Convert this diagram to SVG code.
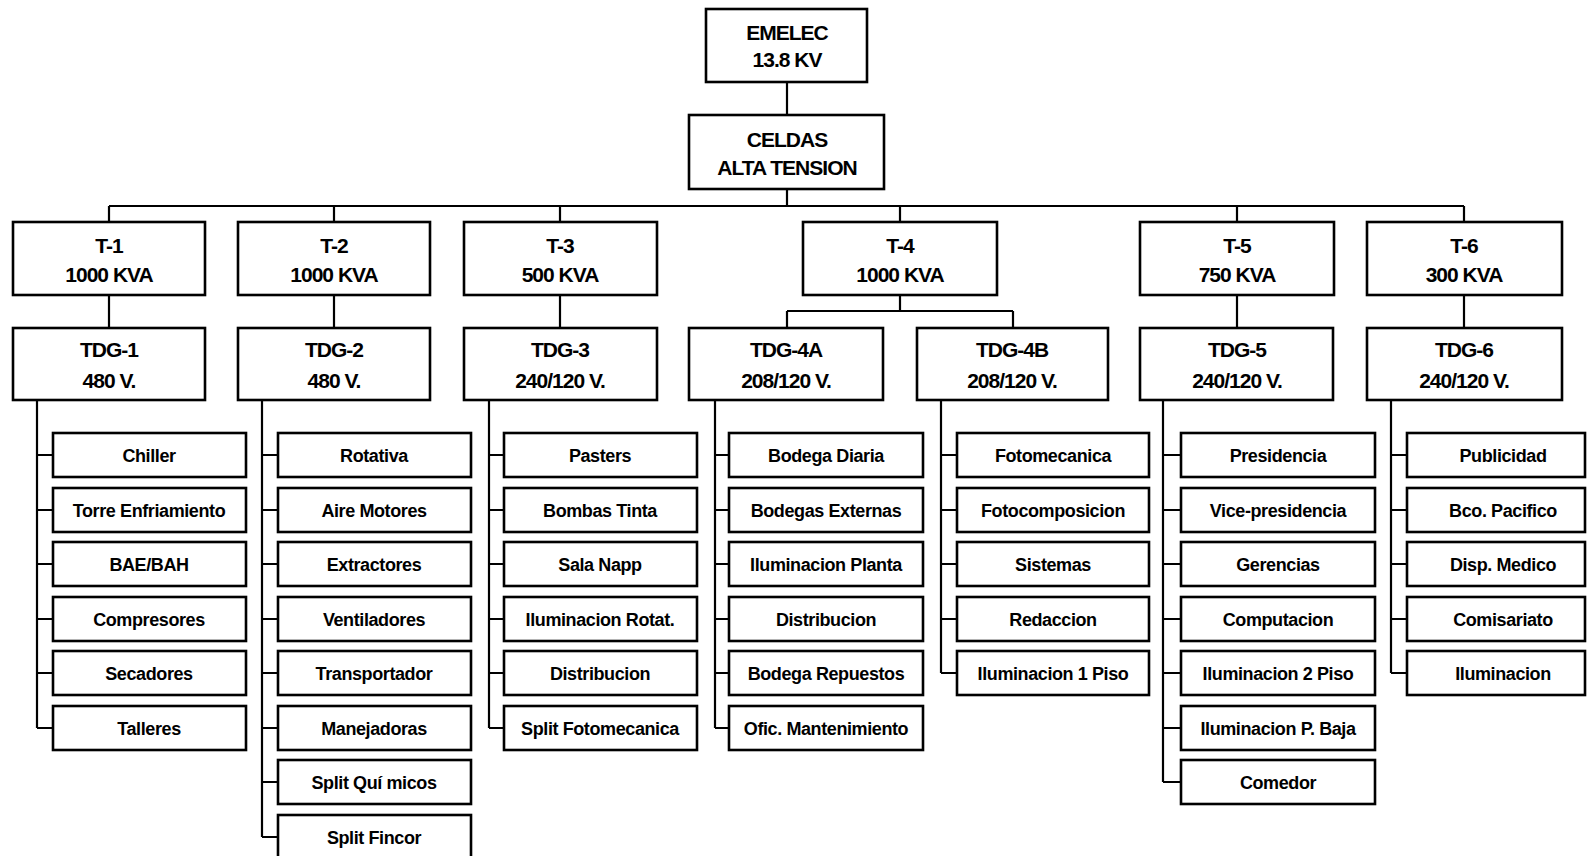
<svg xmlns="http://www.w3.org/2000/svg" width="1588" height="856" viewBox="0 0 1588 856">
<style>
.b{fill:#fff;stroke:#000;stroke-width:2.6}
.c{fill:none;stroke:#000;stroke-width:2.2}
.t{font-family:'Liberation Sans',Arial,sans-serif;font-weight:bold;font-size:21px;letter-spacing:-1px;text-anchor:middle;fill:#000}
.l{font-family:'Liberation Sans',Arial,sans-serif;font-weight:bold;font-size:18px;letter-spacing:-0.4px;text-anchor:middle;fill:#000}
</style>
<rect width="1588" height="856" fill="#fff"/>
<g id="connectors" class="c">
<path d="M787 82V115M787 189V206M109 206H1464M109 206V222M334 206V222M560 206V222M900 206V222M1237 206V222M1464 206V222"/>
<path d="M109 295V328M334 295V328M560 295V328M1237 295V328M1464 295V328M900 295V311M787 311H1013M787 311V328M1013 311V328"/>
<path d="M37 400V728M37 455H53M37 510H53M37 564H53M37 619H53M37 673H53M37 728H53"/>
<path d="M262 400V837M262 455H278M262 510H278M262 564H278M262 619H278M262 673H278M262 728H278M262 782H278M262 837H278"/>
<path d="M489 400V728M489 455H504M489 510H504M489 564H504M489 619H504M489 673H504M489 728H504"/>
<path d="M715 400V728M715 455H729M715 510H729M715 564H729M715 619H729M715 673H729M715 728H729"/>
<path d="M941 400V673M941 455H957M941 510H957M941 564H957M941 619H957M941 673H957"/>
<path d="M1163 400V782M1163 455H1181M1163 510H1181M1163 564H1181M1163 619H1181M1163 673H1181M1163 728H1181M1163 782H1181"/>
<path d="M1391 400V673M1391 455H1407M1391 510H1407M1391 564H1407M1391 619H1407M1391 673H1407"/>
</g>
<g id="emelec"><rect class="b" x="706" y="9" width="161" height="73"/><text class="t" x="787" y="40">EMELEC</text><text class="t" x="787" y="67">13.8 KV</text></g>
<g id="celdas"><rect class="b" x="689" y="115" width="195" height="74"/><text class="t" x="787" y="147">CELDAS</text><text class="t" x="787" y="175">ALTA TENSION</text></g>
<g id="t1"><rect class="b" x="13" y="222" width="192" height="73"/><text class="t" x="109" y="253">T-1</text><text class="t" x="109" y="282">1000 KVA</text></g>
<g id="t2"><rect class="b" x="238" y="222" width="192" height="73"/><text class="t" x="334" y="253">T-2</text><text class="t" x="334" y="282">1000 KVA</text></g>
<g id="t3"><rect class="b" x="464" y="222" width="193" height="73"/><text class="t" x="560" y="253">T-3</text><text class="t" x="560" y="282">500 KVA</text></g>
<g id="t4"><rect class="b" x="803" y="222" width="194" height="73"/><text class="t" x="900" y="253">T-4</text><text class="t" x="900" y="282">1000 KVA</text></g>
<g id="t5"><rect class="b" x="1140" y="222" width="194" height="73"/><text class="t" x="1237" y="253">T-5</text><text class="t" x="1237" y="282">750 KVA</text></g>
<g id="t6"><rect class="b" x="1367" y="222" width="195" height="73"/><text class="t" x="1464" y="253">T-6</text><text class="t" x="1464" y="282">300 KVA</text></g>
<g id="tdg1"><rect class="b" x="13" y="328" width="192" height="72"/><text class="t" x="109" y="357">TDG-1</text><text class="t" x="109" y="388">480 V.</text></g>
<g id="tdg2"><rect class="b" x="238" y="328" width="192" height="72"/><text class="t" x="334" y="357">TDG-2</text><text class="t" x="334" y="388">480 V.</text></g>
<g id="tdg3"><rect class="b" x="464" y="328" width="193" height="72"/><text class="t" x="560" y="357">TDG-3</text><text class="t" x="560" y="388">240/120 V.</text></g>
<g id="tdg4a"><rect class="b" x="689" y="328" width="194" height="72"/><text class="t" x="786" y="357">TDG-4A</text><text class="t" x="786" y="388">208/120 V.</text></g>
<g id="tdg4b"><rect class="b" x="917" y="328" width="191" height="72"/><text class="t" x="1012" y="357">TDG-4B</text><text class="t" x="1012" y="388">208/120 V.</text></g>
<g id="tdg5"><rect class="b" x="1140" y="328" width="193" height="72"/><text class="t" x="1237" y="357">TDG-5</text><text class="t" x="1237" y="388">240/120 V.</text></g>
<g id="tdg6"><rect class="b" x="1367" y="328" width="195" height="72"/><text class="t" x="1464" y="357">TDG-6</text><text class="t" x="1464" y="388">240/120 V.</text></g>

<g id="c1-1"><rect class="b" x="53" y="433" width="193" height="44"/><text class="l" x="149" y="462">Chiller</text></g>
<g id="c1-2"><rect class="b" x="53" y="488" width="193" height="44"/><text class="l" x="149" y="517">Torre Enfriamiento</text></g>
<g id="c1-3"><rect class="b" x="53" y="542" width="193" height="44"/><text class="l" x="149" y="571">BAE/BAH</text></g>
<g id="c1-4"><rect class="b" x="53" y="597" width="193" height="44"/><text class="l" x="149" y="626">Compresores</text></g>
<g id="c1-5"><rect class="b" x="53" y="651" width="193" height="44"/><text class="l" x="149" y="680">Secadores</text></g>
<g id="c1-6"><rect class="b" x="53" y="706" width="193" height="44"/><text class="l" x="149" y="735">Talleres</text></g>

<g id="c2-1"><rect class="b" x="278" y="433" width="193" height="44"/><text class="l" x="374" y="462">Rotativa</text></g>
<g id="c2-2"><rect class="b" x="278" y="488" width="193" height="44"/><text class="l" x="374" y="517">Aire Motores</text></g>
<g id="c2-3"><rect class="b" x="278" y="542" width="193" height="44"/><text class="l" x="374" y="571">Extractores</text></g>
<g id="c2-4"><rect class="b" x="278" y="597" width="193" height="44"/><text class="l" x="374" y="626">Ventiladores</text></g>
<g id="c2-5"><rect class="b" x="278" y="651" width="193" height="44"/><text class="l" x="374" y="680">Transportador</text></g>
<g id="c2-6"><rect class="b" x="278" y="706" width="193" height="44"/><text class="l" x="374" y="735">Manejadoras</text></g>
<g id="c2-7"><rect class="b" x="278" y="760" width="193" height="44"/><text class="l" x="374" y="789">Split Quí micos</text></g>
<g id="c2-8"><rect class="b" x="278" y="815" width="193" height="44"/><text class="l" x="374" y="844">Split Fincor</text></g>

<g id="c3-1"><rect class="b" x="504" y="433" width="193" height="44"/><text class="l" x="600" y="462">Pasters</text></g>
<g id="c3-2"><rect class="b" x="504" y="488" width="193" height="44"/><text class="l" x="600" y="517">Bombas Tinta</text></g>
<g id="c3-3"><rect class="b" x="504" y="542" width="193" height="44"/><text class="l" x="600" y="571">Sala Napp</text></g>
<g id="c3-4"><rect class="b" x="504" y="597" width="193" height="44"/><text class="l" x="600" y="626">Iluminacion Rotat.</text></g>
<g id="c3-5"><rect class="b" x="504" y="651" width="193" height="44"/><text class="l" x="600" y="680">Distribucion</text></g>
<g id="c3-6"><rect class="b" x="504" y="706" width="193" height="44"/><text class="l" x="600" y="735">Split Fotomecanica</text></g>

<g id="c4-1"><rect class="b" x="729" y="433" width="194" height="44"/><text class="l" x="826" y="462">Bodega Diaria</text></g>
<g id="c4-2"><rect class="b" x="729" y="488" width="194" height="44"/><text class="l" x="826" y="517">Bodegas Externas</text></g>
<g id="c4-3"><rect class="b" x="729" y="542" width="194" height="44"/><text class="l" x="826" y="571">Iluminacion Planta</text></g>
<g id="c4-4"><rect class="b" x="729" y="597" width="194" height="44"/><text class="l" x="826" y="626">Distribucion</text></g>
<g id="c4-5"><rect class="b" x="729" y="651" width="194" height="44"/><text class="l" x="826" y="680">Bodega Repuestos</text></g>
<g id="c4-6"><rect class="b" x="729" y="706" width="194" height="44"/><text class="l" x="826" y="735">Ofic. Mantenimiento</text></g>

<g id="c5-1"><rect class="b" x="957" y="433" width="192" height="44"/><text class="l" x="1053" y="462">Fotomecanica</text></g>
<g id="c5-2"><rect class="b" x="957" y="488" width="192" height="44"/><text class="l" x="1053" y="517">Fotocomposicion</text></g>
<g id="c5-3"><rect class="b" x="957" y="542" width="192" height="44"/><text class="l" x="1053" y="571">Sistemas</text></g>
<g id="c5-4"><rect class="b" x="957" y="597" width="192" height="44"/><text class="l" x="1053" y="626">Redaccion</text></g>
<g id="c5-5"><rect class="b" x="957" y="651" width="192" height="44"/><text class="l" x="1053" y="680">Iluminacion 1 Piso</text></g>

<g id="c6-1"><rect class="b" x="1181" y="433" width="194" height="44"/><text class="l" x="1278" y="462">Presidencia</text></g>
<g id="c6-2"><rect class="b" x="1181" y="488" width="194" height="44"/><text class="l" x="1278" y="517">Vice-presidencia</text></g>
<g id="c6-3"><rect class="b" x="1181" y="542" width="194" height="44"/><text class="l" x="1278" y="571">Gerencias</text></g>
<g id="c6-4"><rect class="b" x="1181" y="597" width="194" height="44"/><text class="l" x="1278" y="626">Computacion</text></g>
<g id="c6-5"><rect class="b" x="1181" y="651" width="194" height="44"/><text class="l" x="1278" y="680">Iluminacion 2 Piso</text></g>
<g id="c6-6"><rect class="b" x="1181" y="706" width="194" height="44"/><text class="l" x="1278" y="735">Iluminacion P. Baja</text></g>
<g id="c6-7"><rect class="b" x="1181" y="760" width="194" height="44"/><text class="l" x="1278" y="789">Comedor</text></g>

<g id="c7-1"><rect class="b" x="1407" y="433" width="178" height="44"/><text class="l" x="1503" y="462">Publicidad</text></g>
<g id="c7-2"><rect class="b" x="1407" y="488" width="178" height="44"/><text class="l" x="1503" y="517">Bco. Pacifico</text></g>
<g id="c7-3"><rect class="b" x="1407" y="542" width="178" height="44"/><text class="l" x="1503" y="571">Disp. Medico</text></g>
<g id="c7-4"><rect class="b" x="1407" y="597" width="178" height="44"/><text class="l" x="1503" y="626">Comisariato</text></g>
<g id="c7-5"><rect class="b" x="1407" y="651" width="178" height="44"/><text class="l" x="1503" y="680">Iluminacion</text></g>
</svg>
